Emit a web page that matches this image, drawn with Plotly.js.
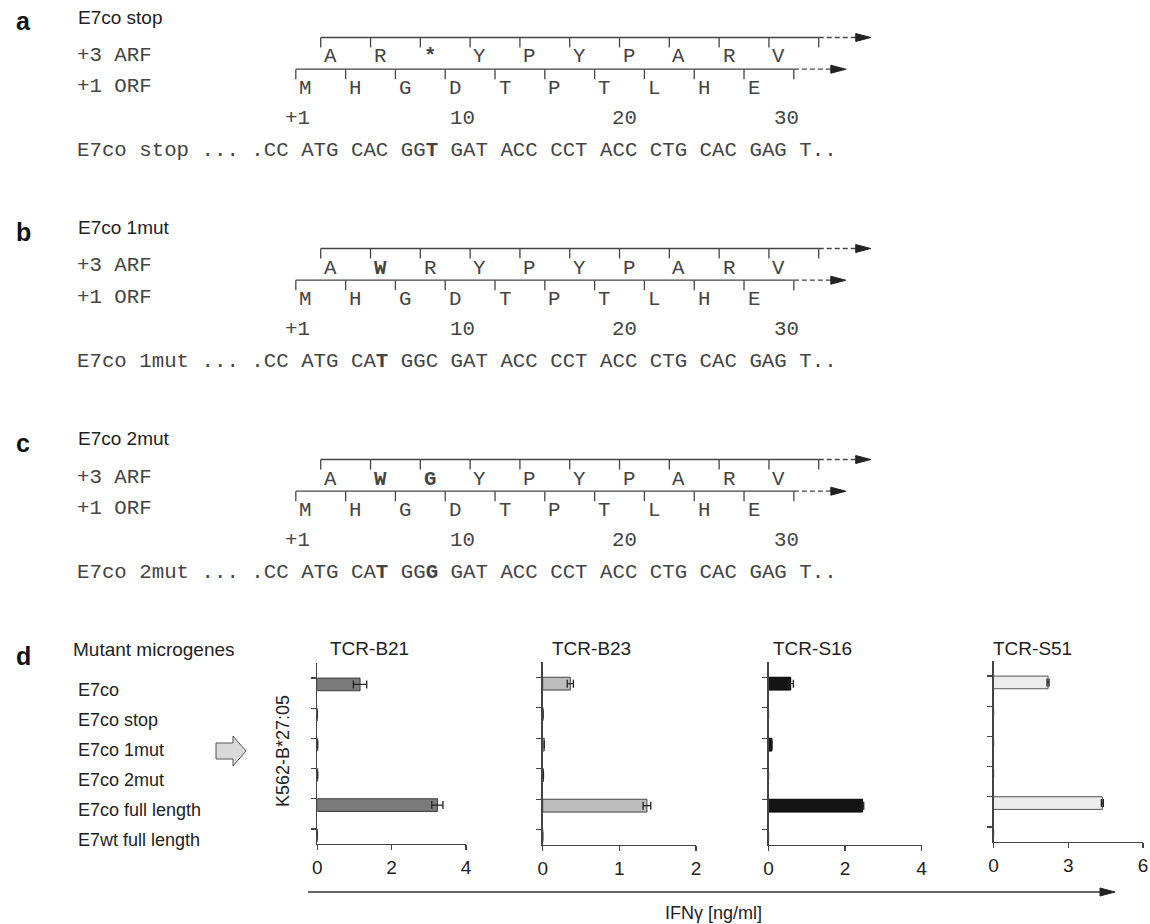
<!DOCTYPE html>
<html><head><meta charset="utf-8">
<script src="https://cdn.plot.ly/plotly-3.0.1.min.js"></script>
<style>body{margin:0;background:#fff}</style>
</head><body><div id="plot" style="width:1150px;height:924px"></div>
<script>
// ---------- DATA ----------
const categories = ['E7co','E7co stop','E7co 1mut','E7co 2mut','E7co full length','E7wt full length'];
const tcrNames = ['TCR-B21','TCR-B23','TCR-S16','TCR-S51'];
const valuesB21 = [1.15, 0, 0.01, 0.01, 3.23, 0];
const errorsB21 = [0.18, null, null, null, 0.15, null];
const valuesB23 = [0.36, 0.005, 0.02, 0.01, 1.36, 0];
const errorsB23 = [0.04, null, null, null, 0.05, null];
const valuesS16 = [0.58, 0, 0.09, 0, 2.46, 0];
const errorsS16 = [0.07, null, null, null, 0.03, null];
const valuesS51 = [2.19, 0, 0, 0, 4.37, 0];
const errorsS51 = [0.04, null, null, null, 0.04, null];
const xTickVals = [[0,2,4],[0,1,2],[0,2,4],[0,3,6]];
const xRanges = [[0,4],[0,2],[0,4],[0,6]];
const xAxisTitle = 'IFNγ [ng/ml]';
const cellLine = 'K562-B*27:05';
const listTitle = 'Mutant microgenes';

const panelLetters = ['a','b','c','d'];
const panelTitles = ['E7co stop','E7co 1mut','E7co 2mut'];
const arfLabel = '+3 ARF';
const orfLabel = '+1 ORF';
const arfA = ['A','R','<b>*</b>','Y','P','Y','P','A','R','V'];
const arfB = ['A','<b>W</b>','R','Y','P','Y','P','A','R','V'];
const arfC = ['A','<b>W</b>','<b>G</b>','Y','P','Y','P','A','R','V'];
const orfAA = ['M','H','G','D','T','P','T','L','H','E'];
const codonsA = ['ATG','CAC','GG<b>T</b>','GAT','ACC','CCT','ACC','CTG','CAC','GAG'];
const codonsB = ['ATG','CA<b>T</b>','GGC','GAT','ACC','CCT','ACC','CTG','CAC','GAG'];
const codonsC = ['ATG','CA<b>T</b>','GG<b>G</b>','GAT','ACC','CCT','ACC','CTG','CAC','GAG'];
const seqPrefix = '... .CC';
const seqSuffix = 'T..';
const positionLabels = ['+1','10','20','30'];
const positionNt = [1,10,20,30];

// ---------- LAYOUT HELPERS ----------
const W = 1150, H = 924;
const px = x => x / W;
const py = y => 1 - y / H;
const SANS = 'Liberation Sans, Arial, Helvetica, sans-serif';
const MONO = 'Liberation Mono, Courier New, monospace';
const X0 = 75, CW = 12.45, MONO_SIZE = 20.75;
const monoColor = '#444';
const ntCenter = n => X0 + (18 + n + Math.floor(n / 3) + 0.5) * CW;   // n: 0-based nt index from ATG

const annotations = [];
const shapes = [];
function txt(x, y, text, opts) {
  annotations.push(Object.assign({xref:'paper', yref:'paper', x:px(x), y:py(y), text:text,
    showarrow:false, xanchor:'left', yanchor:'middle',
    font:{family:SANS, size:18, color:'#222'}}, opts || {}));
}
function line(x0, y0, x1, y1, opts) {
  shapes.push(Object.assign({type:'line', xref:'paper', yref:'paper', x0:px(x0), y0:py(y0), x1:px(x1), y1:py(y1),
    line:{color:'#444', width:1.3}}, opts || {}));
}
function poly(pts, fill, lc) {
  const d = pts.map((p, i) => (i ? 'L' : 'M') + px(p[0]) + ',' + py(p[1])).join(' ') + ' Z';
  shapes.push({type:'path', xref:'paper', yref:'paper', path:d, fillcolor:fill, line:{color:lc || fill, width:1}});
}

// ---------- SEQUENCE PANELS a-c ----------
const arfs = [arfA, arfB, arfC];
const codonSets = [codonsA, codonsB, codonsC];
const arfRows = [55, 266, 477];
const titleRows = [17, 228, 439];
const STEP = 31.7;
function frame(aas, startNt, yLetters, dashLen, headLen) {
  const yLine = yLetters - 17.5;
  const ticks = [];
  for (let k = 0; k <= aas.length; k++) ticks.push(ntCenter(startNt + 3 * k) - 9.5);
  line(ticks[0], yLine, ticks[ticks.length - 1], yLine);
  ticks.forEach(t => line(t, yLine, t, yLine + 10));
  const last = ticks[ticks.length - 1];
  line(last, yLine, last + dashLen, yLine, {line:{color:'#444', width:1.3, dash:'5px,3px'}});
  poly([[last + dashLen, yLine - 4], [last + dashLen + headLen, yLine], [last + dashLen, yLine + 4]], '#222');
  aas.forEach((a, k) => txt(ntCenter(startNt + 3 * k), yLetters + 2, a,
    {xanchor:'center', font:{family:MONO, size:MONO_SIZE, color:monoColor}}));
}
for (let p = 0; p < 3; p++) {
  const y = arfRows[p];
  txt(14, titleRows[p] + 4, '<b>' + panelLetters[p] + '</b>', {font:{family:SANS, size:25, color:'#111'}});
  txt(76, titleRows[p], panelTitles[p], {font:{family:SANS, size:19, color:'#222'}});
  txt(X0, y, arfLabel, {font:{family:MONO, size:MONO_SIZE, color:monoColor}});
  txt(X0, y + STEP, orfLabel, {font:{family:MONO, size:MONO_SIZE, color:monoColor}});
  frame(arfs[p], 2, y, 37, 15);
  frame(orfAA, 0, y + STEP, 37, 15);
  positionLabels.forEach((lab, i) => {
    const n = positionNt[i] - 1;
    if (i === 0) txt(ntCenter(n) + CW / 2, y + 2 * STEP, lab, {xanchor:'right', font:{family:MONO, size:MONO_SIZE, color:monoColor}});
    else txt(ntCenter(n) - CW / 2, y + 2 * STEP, lab, {xanchor:'left', font:{family:MONO, size:MONO_SIZE, color:monoColor}});
  });
  const seq = panelTitles[p] + ' ' + seqPrefix + ' ' + codonSets[p].join(' ') + ' ' + seqSuffix;
  txt(X0, y + 3 * STEP, seq, {font:{family:MONO, size:MONO_SIZE, color:monoColor}});
}

// ---------- PANEL d ----------
txt(14, 656, '<b>' + panelLetters[3] + '</b>', {font:{family:SANS, size:25, color:'#111'}});
txt(71, 649, listTitle, {font:{family:SANS, size:19, color:'#222'}});
categories.forEach((c, i) => {
  annotations.push({xref:'paper', yref:'y', x:px(76), y:i + 0.38, text:c, showarrow:false,
    xanchor:'left', yanchor:'middle', font:{family:SANS, size:18, color:'#222'}});
});
// block arrow
poly([[216,743],[233,743],[233,736],[246,751],[233,766],[233,759],[216,759]], '#d9d9d9', '#555');
// K562 label
annotations.push({xref:'paper', yref:'paper', x:px(283), y:py(751), text:cellLine, textangle:-90,
  showarrow:false, xanchor:'center', yanchor:'middle', font:{family:SANS, size:18, color:'#222'}});
// IFNg arrow
line(308, 892, 1101, 892, {line:{color:'#333', width:1.3}});
poly([[1100,888],[1115,892],[1100,896]], '#222');
txt(713, 913, xAxisTitle, {xanchor:'center', font:{family:SANS, size:18, color:'#222'}});

const values = [valuesB21, valuesB23, valuesS16, valuesS51];
const errors = [errorsB21, errorsB23, errorsS16, errorsS51];
const fills = ['#7b7b7b', '#bdbdbd', '#141414', '#ececec'];
const outlines = ['#3a3a3a', '#444', '#000', '#555'];
const xDom = [[317.3,466],[542.7,696],[768.5,921.5],[993.5,1143]];
const yDom = [[663,844],[662,845],[662,845],[661,842]];
const titleX = [370, 591, 812, 1032];

const traces = [];
const layout = {
  width: W, height: H, margin:{l:0, r:0, t:0, b:0},
  paper_bgcolor:'#fff', plot_bgcolor:'rgba(0,0,0,0)', showlegend:false,
  font:{family:SANS, color:'#222'},
  annotations: annotations, shapes: shapes
};
for (let i = 0; i < 4; i++) {
  const sx = i === 0 ? '' : String(i + 1);
  traces.push({
    type:'bar', orientation:'h', y:categories, x:values[i],
    xaxis:'x' + sx, yaxis:'y' + sx, width:0.42, offset:0,
    marker:{color:fills[i], line:{color:outlines[i], width:1}},
    error_x:{type:'data', array:errors[i], visible:true, color:'#222', thickness:1.3, width:4},
    hoverinfo:'skip'
  });
  layout['xaxis' + sx] = {
    domain:[px(xDom[i][0]), px(xDom[i][1])], anchor:'y' + sx, range:xRanges[i],
    tickvals:xTickVals[i], ticks:'outside', ticklen:5, tickwidth:1.2, tickcolor:'#444',
    showline:true, linecolor:'#444', linewidth:1.3, showgrid:false, zeroline:false,
    tickfont:{family:SANS, size:19, color:'#222'}, ticklabelstandoff:1, ticklabeloverflow:'allow',
    fixedrange:true
  };
  layout['yaxis' + sx] = {
    domain:[py(yDom[i][1]), py(yDom[i][0])], anchor:'x' + sx, type:'category',
    categoryorder:'array', categoryarray:categories, range:[5.5, -0.5],
    ticks:'outside', ticklen:5, tickwidth:1.2, tickcolor:'#444', showticklabels:false,
    showline:true, linecolor:'#444', linewidth:1.3, showgrid:false, zeroline:false, fixedrange:true
  };
  annotations.push({xref:'paper', yref:'paper', x:px(titleX[i]), y:py(648), text:tcrNames[i],
    showarrow:false, xanchor:'center', yanchor:'middle', font:{family:SANS, size:19, color:'#222'}});
}
Plotly.newPlot('plot', traces, layout, {staticPlot:true, displayModeBar:false});
</script></body></html>
